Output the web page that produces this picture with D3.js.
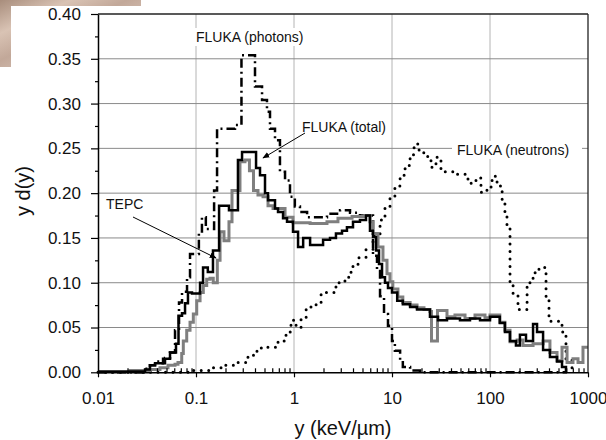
<!DOCTYPE html>
<html>
<head>
<meta charset="utf-8">
<script src="https://d3js.org/d3.v7.min.js"></script>
<style>
  body { margin: 0; background: #fff; }
  svg { display: block; font-family: "Liberation Sans", Arial, sans-serif; }
</style>
</head>
<body>
<div id="chart"></div>
<script>
// axis ticks
const xTicks = [0.01, 0.1, 1, 10, 100, 1000];
const xTickLabels = ["0.01", "0.1", "1", "10", "100", "1000"];
const yTicks = [0, 0.05, 0.10, 0.15, 0.20, 0.25, 0.30, 0.35, 0.40];
const yMinorTicks = [0.025, 0.075, 0.125, 0.175, 0.225, 0.275, 0.325, 0.375];

// TEPC (measured, grey histogram): step start (keV/um) and level
const tepcX = [0.01, 0.0212, 0.0339, 0.0429, 0.0518, 0.0611, 0.0655, 0.0715, 0.0742, 0.0804,
  0.0869, 0.0939, 0.1017, 0.110, 0.1187, 0.1286, 0.139, 0.150, 0.165, 0.176,
  0.193, 0.217, 0.233, 0.256, 0.281, 0.316, 0.351, 0.386, 0.429, 0.483,
  0.543, 0.611, 0.719, 0.810, 0.977, 1.21, 1.46, 2.17, 2.81, 3.91,
  5.30, 5.96, 6.40, 7.20, 8.09, 8.89, 9.54, 10.2, 11.5, 12.9,
  15.3, 18.0, 21.2, 24.4, 25.3, 29.1, 36.4, 43.9, 55.6, 70.3,
  88.9, 100, 126, 142, 160, 189, 217, 275, 348, 409,
  483, 543, 611, 703, 791, 889, 1000];
const tepcY = [0.001, 0.002, 0.003, 0.005, 0.008, 0.009, 0.011, 0.021, 0.035, 0.047,
  0.056, 0.065, 0.080, 0.089, 0.097, 0.104, 0.105, 0.100, 0.125, 0.157,
  0.147, 0.168, 0.203, 0.203, 0.235, 0.237, 0.225, 0.203, 0.198, 0.196,
  0.186, 0.183, 0.183, 0.173, 0.167, 0.167, 0.166, 0.168, 0.172, 0.174,
  0.175, 0.168, 0.155, 0.140, 0.125, 0.110, 0.101, 0.093, 0.084, 0.078,
  0.075, 0.072, 0.070, 0.068, 0.035, 0.069, 0.062, 0.064, 0.060, 0.064,
  0.061, 0.064, 0.056, 0.047, 0.034, 0.036, 0.030, 0.032, 0.035, 0.022,
  0.013, 0.028, 0.011, 0.015, 0.011, 0.028, 0.028];

// FLUKA (total), black histogram
const totalX = [0.01, 0.0212, 0.0302, 0.0339, 0.0382, 0.0461, 0.0543, 0.0625, 0.0663, 0.0720,
  0.0773, 0.0828, 0.0910, 0.110, 0.118, 0.132, 0.149, 0.172, 0.217, 0.268,
  0.295, 0.410, 0.450, 0.506, 0.543, 0.640, 0.687, 0.773, 0.849, 0.977,
  1.10, 1.24, 1.46, 1.68, 1.98, 2.33, 2.68, 3.09, 3.47, 4.00,
  4.71, 5.43, 5.96, 6.40, 6.87, 7.37, 7.91, 8.48, 9.10, 10,
  11.3, 12.9, 15.3, 18.0, 24.4, 29.5, 36.4, 49.4, 62.5, 79.1,
  100, 126, 142, 160, 184, 202, 233, 275, 302, 348,
  409, 483, 543, 596];
const totalY = [0.0005, 0.001, 0.003, 0.008, 0.010, 0.015, 0.022, 0.032, 0.063, 0.066,
  0.077, 0.089, 0.088, 0.100, 0.117, 0.112, 0.136, 0.186, 0.181, 0.237,
  0.246, 0.228, 0.220, 0.200, 0.192, 0.183, 0.179, 0.172, 0.168, 0.157,
  0.140, 0.150, 0.142, 0.142, 0.148, 0.150, 0.155, 0.158, 0.162, 0.168,
  0.170, 0.175, 0.158, 0.151, 0.136, 0.121, 0.106, 0.100, 0.094, 0.089,
  0.080, 0.076, 0.073, 0.070, 0.062, 0.058, 0.060, 0.058, 0.060, 0.058,
  0.062, 0.055, 0.045, 0.035, 0.030, 0.042, 0.035, 0.054, 0.045, 0.025,
  0.017, 0.012, 0.006, 0];

// FLUKA (photons), dash-dot histogram
const photonsX = [0.01, 0.0302, 0.0339, 0.0382, 0.0429, 0.0483, 0.0543, 0.0611, 0.0671, 0.0720,
  0.0810, 0.0869, 0.107, 0.115, 0.126, 0.153, 0.164, 0.250, 0.291, 0.400,
  0.472, 0.530, 0.569, 0.640, 0.719, 0.810, 0.910, 1.02, 1.15, 1.36,
  2.17, 2.95, 3.73, 4.71, 6.40, 7.03, 7.55, 8.29, 9.10, 10,
  10.7, 12.1, 12.9, 15.3, 19.3, 611];
const photonsY = [0, 0.004, 0.008, 0.012, 0.010, 0.016, 0.022, 0.047, 0.078, 0.090,
  0.106, 0.132, 0.155, 0.173, 0.160, 0.203, 0.272, 0.276, 0.354, 0.319,
  0.304, 0.291, 0.272, 0.259, 0.224, 0.214, 0.196, 0.185, 0.179, 0.173,
  0.177, 0.181, 0.178, 0.175, 0.130, 0.113, 0.085, 0.065, 0.052, 0.035,
  0.024, 0.013, 0.006, 0.002, 0, 0];

// FLUKA (neutrons), dotted histogram
const neutronsX = [0.01, 0.0869, 0.146, 0.198, 0.268, 0.339, 0.419, 0.506, 0.687, 0.829,
  0.932, 1.05, 1.18, 1.33, 1.49, 1.68, 1.89, 2.68, 3.31, 3.82,
  4.50, 5.43, 6.40, 7.55, 8.48, 9.54, 10.7, 12.1, 13.6, 15.3,
  16.8, 18.9, 21.7, 25.0, 28.1, 31.6, 46.1, 59.6, 71.9, 80.9,
  93.1, 105, 118, 133, 142, 149, 160, 172, 193, 239,
  275, 316, 373, 400, 543, 596, 687];
const neutronsY = [0, 0.002, 0.005, 0.008, 0.011, 0.019, 0.027, 0.028, 0.035, 0.045,
  0.058, 0.050, 0.060, 0.071, 0.074, 0.078, 0.089, 0.100, 0.106, 0.118,
  0.128, 0.137, 0.153, 0.170, 0.185, 0.196, 0.208, 0.220, 0.231, 0.243,
  0.255, 0.245, 0.241, 0.229, 0.240, 0.224, 0.221, 0.211, 0.217, 0.201,
  0.207, 0.219, 0.208, 0.190, 0.179, 0.162, 0.097, 0.086, 0.070, 0.100,
  0.111, 0.117, 0.085, 0.057, 0.045, 0.015, 0];

const width = 606, height = 440;
const margin = { top: 14, right: 18, bottom: 68, left: 98 };

const svg = d3.select("#chart").append("svg")
  .attr("width", width)
  .attr("height", height);

// scanned page corner at the top left
const defs = svg.append("defs");
const grad = defs.append("linearGradient").attr("id", "paper")
  .attr("x1", "0").attr("y1", "0").attr("x2", "1").attr("y2", "1");
grad.append("stop").attr("offset", "0%").attr("stop-color", "#a88d7c");
grad.append("stop").attr("offset", "25%").attr("stop-color", "#d9c3b4");
grad.append("stop").attr("offset", "45%").attr("stop-color", "#c2a899");
grad.append("stop").attr("offset", "100%").attr("stop-color", "#f1e4dc");
svg.append("path")
  .attr("d", "M0,0H141V6H11V67H0Z")
  .attr("fill", "url(#paper)");

const x = d3.scaleLog()
  .domain([0.01, 1000])
  .range([margin.left, width - margin.right]);
const y = d3.scaleLinear()
  .domain([0, 0.4])
  .range([height - margin.bottom + 0.3, margin.top]);

// grid
svg.append("g")
  .selectAll("line")
  .data(xTicks.slice(1, -1))
  .join("line")
  .attr("x1", d => x(d)).attr("x2", d => x(d))
  .attr("y1", y(0)).attr("y2", y(0.4))
  .attr("stroke", "#b4b4b4").attr("stroke-width", 1);
svg.append("g")
  .selectAll("line")
  .data(yTicks.slice(1, -1))
  .join("line")
  .attr("x1", x(0.01)).attr("x2", x(1000))
  .attr("y1", d => y(d)).attr("y2", d => y(d))
  .attr("stroke", "#8a8a8a").attr("stroke-width", 1);

// white boxes behind the labels that sit on the grid
svg.append("rect").attr("x", 192).attr("y", 28).attr("width", 117).attr("height", 18).attr("fill", "#fff");
svg.append("rect").attr("x", 452).attr("y", 141).attr("width", 130).attr("height", 18).attr("fill", "#fff");

function steps(xs, ys) {
  return xs.map((d, i) => [d, ys[i]]);
}
const line = d3.line()
  .x(d => x(d[0]))
  .y(d => y(d[1]))
  .curve(d3.curveStepAfter);

// FLUKA (neutrons)
svg.append("path")
  .datum(steps(neutronsX, neutronsY))
  .attr("fill", "none")
  .attr("stroke", "#000")
  .attr("stroke-width", 3)
  .attr("stroke-linecap", "round")
  .attr("stroke-dasharray", "0,7.5")
  .attr("d", line);

// FLUKA (photons)
svg.append("path")
  .datum(steps(photonsX, photonsY))
  .attr("fill", "none")
  .attr("stroke", "#000")
  .attr("stroke-width", 2.5)
  .attr("stroke-dasharray", "9,4,2,4")
  .attr("d", line);

// TEPC
svg.append("path")
  .datum(steps(tepcX, tepcY))
  .attr("fill", "none")
  .attr("stroke", "#7f7f7f")
  .attr("stroke-width", 3)
  .attr("d", line);

// FLUKA (total)
svg.append("path")
  .datum(steps(totalX, totalY))
  .attr("fill", "none")
  .attr("stroke", "#000")
  .attr("stroke-width", 2.5)
  .attr("d", line);

// frame
svg.append("line")
  .attr("x1", x(0.01)).attr("x2", x(1000))
  .attr("y1", y(0.4)).attr("y2", y(0.4))
  .attr("stroke", "#222").attr("stroke-width", 1.3);
svg.append("line")
  .attr("x1", x(1000)).attr("x2", x(1000))
  .attr("y1", y(0.4)).attr("y2", y(0))
  .attr("stroke", "#222").attr("stroke-width", 1.3);

// axes
const xMinor = [];
for (let p = -2; p < 3; p++) {
  for (let k = 2; k <= 9; k++) xMinor.push(k * Math.pow(10, p));
}

svg.append("g")
  .attr("transform", `translate(0,${y(0)})`)
  .call(d3.axisTop(x).tickValues(xMinor).tickSize(4).tickFormat(""))
  .call(g => g.select(".domain").remove())
  .selectAll("line").attr("stroke-width", 1.2);

const xAxis = svg.append("g")
  .attr("transform", `translate(0,${y(0)})`)
  .call(d3.axisBottom(x)
    .tickValues(xTicks)
    .tickSize(5)
    .tickSizeOuter(0)
    .tickPadding(14.5)
    .tickFormat((d, i) => xTickLabels[i]));
xAxis.select(".domain").attr("stroke-width", 1.5);
xAxis.selectAll("line").attr("stroke-width", 1.2);
xAxis.selectAll("text").attr("font-size", 17).attr("font-family", "Liberation Sans, Arial, sans-serif").attr("fill", "#111");

svg.append("g")
  .attr("transform", `translate(${x(0.01)},0)`)
  .call(d3.axisLeft(y).tickValues(yMinorTicks).tickSize(3).tickFormat(""))
  .call(g => g.select(".domain").remove())
  .selectAll("line").attr("stroke-width", 1.2);

const yAxis = svg.append("g")
  .attr("transform", `translate(${x(0.01)},0)`)
  .call(d3.axisLeft(y)
    .tickValues(yTicks)
    .tickSize(7)
    .tickSizeOuter(0)
    .tickPadding(10)
    .tickFormat(d3.format(".2f")));
yAxis.select(".domain").attr("stroke-width", 1.5);
yAxis.selectAll("line").attr("stroke-width", 1.2);
yAxis.selectAll("text").attr("font-size", 17).attr("font-family", "Liberation Sans, Arial, sans-serif").attr("fill", "#111");

// axis titles
svg.append("text")
  .attr("x", 343).attr("y", 435)
  .attr("text-anchor", "middle")
  .attr("font-size", 20).attr("fill", "#111")
  .text("y (keV/µm)");
svg.append("text")
  .attr("transform", "translate(29.5,191) rotate(-90)")
  .attr("text-anchor", "middle")
  .attr("font-size", 20).attr("fill", "#111")
  .text("y d(y)");

// labels
const labelFont = 14;
svg.append("text").attr("x", 196).attr("y", 41.7).attr("font-size", labelFont).attr("fill", "#111").text("FLUKA (photons)");
svg.append("text").attr("x", 302).attr("y", 131.7).attr("font-size", labelFont).attr("fill", "#111").text("FLUKA (total)");
svg.append("text").attr("x", 457).attr("y", 155).attr("font-size", labelFont).attr("fill", "#111").text("FLUKA (neutrons)");
svg.append("text").attr("x", 106).attr("y", 209.3).attr("font-size", labelFont).attr("fill", "#111").text("TEPC");

defs.append("marker").attr("id", "arrow")
  .attr("viewBox", "0 0 10 10").attr("refX", 9).attr("refY", 5)
  .attr("markerWidth", 7).attr("markerHeight", 7)
  .attr("markerUnits", "userSpaceOnUse")
  .attr("orient", "auto")
  .append("path").attr("d", "M0,1L10,5L0,9Z").attr("fill", "#000");

svg.append("line")
  .attr("x1", 305).attr("y1", 133).attr("x2", 263).attr("y2", 158)
  .attr("stroke", "#000").attr("stroke-width", 1)
  .attr("marker-end", "url(#arrow)");
svg.append("line")
  .attr("x1", 133).attr("y1", 217).attr("x2", 216).attr("y2", 258)
  .attr("stroke", "#000").attr("stroke-width", 1)
  .attr("marker-end", "url(#arrow)");
</script>
</body>
</html>
